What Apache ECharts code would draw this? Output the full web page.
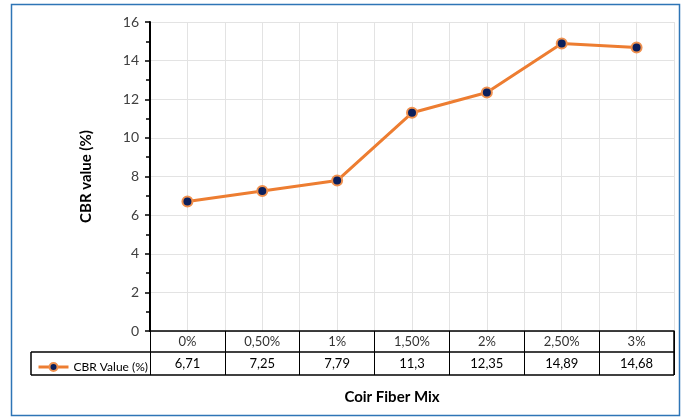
<!DOCTYPE html>
<html>
<head>
<meta charset="utf-8">
<script src="https://cdn.jsdelivr.net/npm/echarts@6/dist/echarts.min.js"></script>
<style>
html,body{margin:0;padding:0;background:#fff;}
#main{width:686px;height:417px;}
</style>
</head>
<body>
<div id="main"></div>
<script>
// ---- data ----
var categories = ['0%', '0,50%', '1%', '1,50%', '2%', '2,50%', '3%'];
var cbrValues = [6.71, 7.25, 7.79, 11.3, 12.35, 14.89, 14.68];
var seriesName = 'CBR Value (%)';
var yTicks = [0, 2, 4, 6, 8, 10, 12, 14, 16];

var valueLabels = cbrValues.map(function (v) { return String(v).replace('.', ','); });

var FONT = 'Lato, "Open Sans", sans-serif';
var GRID = { left: 150, right: 12, top: 22, bottom: 86 };
var W = 686, H = 417;

var chart = echarts.init(document.getElementById('main'), null, { renderer: 'canvas' });

var option = {
  backgroundColor: '#ffffff',
  animation: false,
  textStyle: { fontFamily: FONT },
  grid: GRID,
  legend: {
    data: [seriesName],
    left: 32, top: 356,
    itemWidth: 30, itemHeight: 10, itemGap: 4,
    lineStyle: { width: 3 },
    textStyle: { fontFamily: FONT, fontSize: 12, color: '#000' }
  },
  xAxis: [
    {
      type: 'category', data: categories, boundaryGap: true,
      axisLine: { show: true, lineStyle: { color: '#000', width: 1.5 } },
      axisTick: { show: true, interval: 0, length: 44, lineStyle: { color: '#000', width: 1 } },
      axisLabel: { show: true, interval: 0, margin: 4, fontSize: 13, color: '#333', fontFamily: FONT },
      splitLine: { show: false }
    },
    {
      type: 'category', data: valueLabels, boundaryGap: true, position: 'bottom', offset: 22,
      axisLine: { show: false }, axisTick: { show: false },
      axisLabel: { show: true, interval: 0, margin: 4, fontSize: 13, color: '#000', fontFamily: FONT },
      splitLine: { show: false }
    },
    {
      type: 'value', min: 0, max: 14, interval: 1, position: 'top',
      axisLine: { show: false }, axisTick: { show: false }, axisLabel: { show: false },
      splitLine: { show: true, lineStyle: { color: '#e3e3e3', width: 1 } }
    }
  ],
  yAxis: {
    type: 'value', min: yTicks[0], max: yTicks[yTicks.length - 1], interval: 2,
    name: 'CBR value (%)', nameLocation: 'middle', nameGap: 56,
    nameTextStyle: { fontFamily: FONT, fontSize: 15, fontWeight: 'bold', color: '#000' },
    axisLine: { show: true, lineStyle: { color: '#000', width: 2 } },
    axisTick: { show: true, length: 5, lineStyle: { color: '#000', width: 1.5 } },
    minorTick: { show: true, splitNumber: 2, length: 4, lineStyle: { color: '#000', width: 1.5 } },
    axisLabel: { margin: 11, fontSize: 14, color: '#404040', fontFamily: FONT },
    splitLine: { show: true, lineStyle: { color: '#e3e3e3', width: 1 } }
  },
  series: [{
    name: seriesName, type: 'line', xAxisIndex: 0, data: cbrValues,
    symbol: 'circle', symbolSize: 10,
    lineStyle: { color: '#ED7D31', width: 3 },
    itemStyle: { color: '#0B1F5C', borderColor: '#F0914F', borderWidth: 2 },
    z: 5
  }]
};
chart.setOption(option);

// table frame around the value row and legend cell, derived from grid layout
var y0 = chart.convertToPixel({ yAxisIndex: 0 }, 0);
var xL = GRID.left, xR = W - GRID.right;
var rowMid = y0 + 21, rowBot = y0 + 44, legLeft = 31;
chart.setOption({
  graphic: [
    { type: 'line', shape: { x1: legLeft, y1: rowMid, x2: xR, y2: rowMid }, style: { stroke: '#000', lineWidth: 1.5 }, z: 10 },
    { type: 'line', shape: { x1: legLeft, y1: rowBot, x2: xR, y2: rowBot }, style: { stroke: '#000', lineWidth: 1.5 }, z: 10 },
    { type: 'line', shape: { x1: legLeft, y1: rowMid, x2: legLeft, y2: rowBot }, style: { stroke: '#000', lineWidth: 1.5 }, z: 10 },
    { type: 'line', shape: { x1: xR, y1: y0, x2: xR, y2: rowBot }, style: { stroke: '#000', lineWidth: 1.5 }, z: 10 },
    { type: 'text', x: 392, y: 397, style: { text: 'Coir Fiber Mix', font: 'bold 15px ' + FONT, fill: '#000', textAlign: 'center', textVerticalAlign: 'middle' } },
    { type: 'rect', shape: { x: 11.5, y: 4.5, width: 668, height: 411 }, style: { fill: 'none', stroke: '#2E75B6', lineWidth: 1.5 }, z: 20 }
  ]
});
</script>
</body>
</html>
